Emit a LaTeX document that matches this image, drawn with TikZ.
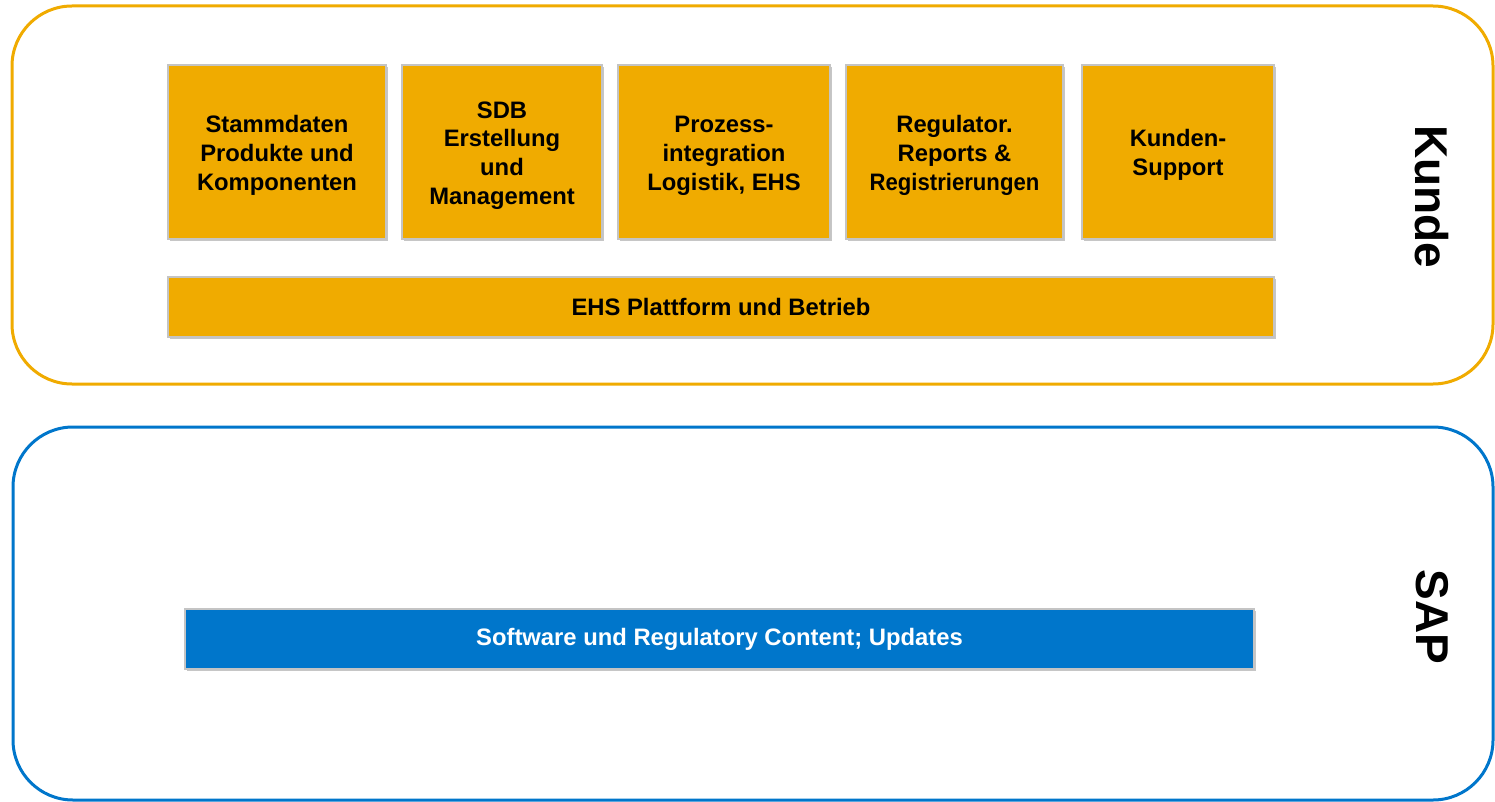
\documentclass[tikz,border=0pt]{standalone}
\usepackage{fontspec}
\setmainfont{Liberation Sans}
\usetikzlibrary{shadows}
\definecolor{sapgold}{HTML}{F0AB00}
\definecolor{sapblue}{HTML}{0076CB}
\definecolor{boxedge}{HTML}{C4C4C4}
\newcommand\tiletxt[1]{\raisebox{0pt}[\dimexpr\height+7pt\relax][\depth]{\begin{tabular}{@{}c@{}}#1\end{tabular}}}
\tikzset{
  frame/.style={draw, line width=3pt, rounded corners=60pt, fill=none, inner sep=0pt},
  tile/.style={draw=boxedge, line width=2.5pt, fill=sapgold, align=center, inner sep=0pt,
    font=\bfseries\fontsize{23.8}{28.8}\selectfont,
    drop shadow={shadow xshift=1.5pt, shadow yshift=-2pt, opacity=0.45, fill=gray}},
  bluetile/.style={tile, fill=sapblue, text=white},
  sidelabel/.style={rotate=-90, font=\bfseries\fontsize{46}{50}\selectfont, inner sep=0pt}
}
\begin{document}
\begin{tikzpicture}[x=1pt,y=-1pt]
\useasboundingbox (0,0) rectangle (1495,802);
% outer frames
\node[frame, draw=sapgold, minimum width=1481pt, minimum height=378pt] (kframe) at (752.5,195) {};
\node[frame, draw=sapblue, minimum width=1480pt, minimum height=373pt] (sframe) at (753,613.5) {};
% tiles
\node[tile, minimum width=218pt, minimum height=174pt] (t1) at (277,152) {\tiletxt{Stammdaten\\Produkte und\\Komponenten}};
\node[tile, minimum width=200pt, minimum height=174pt] (t2) at (502,152) {\tiletxt{SDB\\Erstellung\\und\\Management}};
\node[tile, minimum width=212pt, minimum height=174pt] (t3) at (724,152) {\tiletxt{Prozess-\\integration\\Logistik, EHS}};
\node[tile, minimum width=217pt, minimum height=174pt] (t4) at (954.5,152) {\tiletxt{Regulator.\\Reports \&\\\scalebox{0.93}[1]{Registrierungen}}};
\node[tile, minimum width=192pt, minimum height=174pt] (t5) at (1178,152) {\tiletxt{Kunden-\\Support}};
\node[tile, minimum width=1106pt, minimum height=60pt] (ehs) at (721,307) {EHS Plattform und Betrieb};
\node[bluetile, minimum width=1069pt, minimum height=60pt] (sw) at (719.5,639) {Software und Regulatory Content; Updates};
% side labels
\node[sidelabel] (kunde) at (1432,197) {Kunde};
\node[sidelabel] (sap) at (1432,617) {SAP};
\end{tikzpicture}
\end{document}
